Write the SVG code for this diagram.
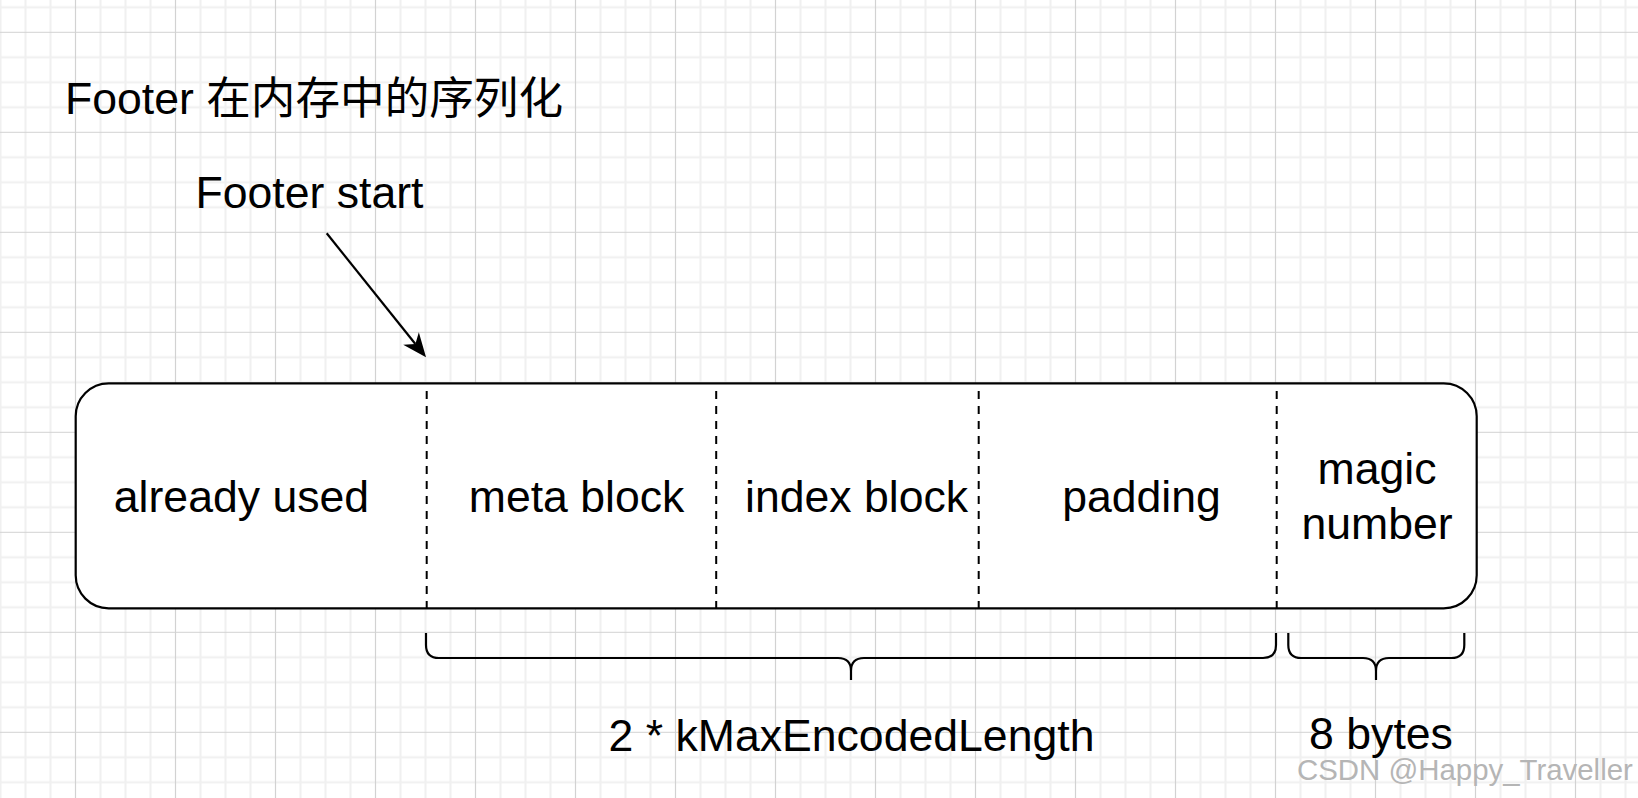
<svg xmlns="http://www.w3.org/2000/svg" width="1638" height="798" viewBox="0 0 1638 798">
  <style>
    .t { font-family: "Liberation Sans", Arial, Helvetica, "Noto Sans CJK SC", sans-serif; font-size: 44.6px; fill: #000; }
    .c { text-anchor: middle; }
    .box { fill: #fff; stroke: #000; stroke-width: 2.2; }
    .div { stroke: #000; stroke-width: 2; stroke-dasharray: 8 7; fill: none; }
    .brace { fill: none; stroke: #000; stroke-width: 2.2; stroke-linejoin: round; }
    .conn { fill: none; stroke: #000; stroke-width: 2.2; }
    .wm { font-family: "Liberation Sans", Arial, sans-serif; font-size: 29.4px; fill: #b5b5b5; }
  </style>
  <defs>
    <pattern id="grid" patternUnits="userSpaceOnUse" x="13" y="-30.2" width="100" height="100">
      <path d="M12.5 0V100M37.5 0V100M87.5 0V100M0 12.5H100M0 37.5H100M0 87.5H100" stroke="#f0f0f0" stroke-width="2" fill="none"/>
      <path d="M62.5 0V100M0 62.5H100" stroke="#d2d2d2" stroke-width="1.2" fill="none"/>
    </pattern>
    <marker id="arrow" markerUnits="userSpaceOnUse" viewBox="-25 -11 26 22" markerWidth="26" markerHeight="22" refX="-17" refY="0" orient="auto">
      <path d="M0 0L-24 -10L-17 0L-24 10Z" fill="#000"/>
    </marker>
  </defs>

  <rect x="0" y="0" width="1638" height="798" fill="#fff"/>
  <rect x="0" y="0" width="1638" height="798" fill="url(#grid)"/>

  <g id="title">
    <text class="t" x="65" y="113.5">Footer 在内存中的序列化</text>
  </g>

  <g id="footer-start">
    <text class="t" x="195.5" y="207.7">Footer start</text>
  </g>

  <g id="footer-box">
    <rect class="box" x="75.7" y="383.3" width="1401" height="225" rx="33" ry="33"/>
    <line class="div" x1="426.7" y1="391" x2="426.7" y2="608"/>
    <line class="div" x1="716.2" y1="391" x2="716.2" y2="608"/>
    <line class="div" x1="978.7" y1="391" x2="978.7" y2="608"/>
    <line class="div" x1="1276.7" y1="391" x2="1276.7" y2="608"/>
  </g>

  <g id="already-used">
    <text class="t c" x="241.5" y="511.7">already used</text>
  </g>
  <g id="meta-block">
    <text class="t c" x="576.6" y="511.7">meta block</text>
  </g>
  <g id="index-block">
    <text class="t c" x="856.6" y="511.7">index block</text>
  </g>
  <g id="padding">
    <text class="t c" x="1141.5" y="511.7">padding</text>
  </g>
  <g id="magic-number">
    <text class="t c" x="1377" y="483.5">magic</text>
    <text class="t c" x="1377" y="538.5">number</text>
  </g>

  <g id="brace-encoded">
    <path class="brace" d="M426 633V645Q426 658 439 658H838Q851 658 851 671Q851 658 864 658H1263Q1276 658 1276 645V633M851 671V680"/>
    <text class="t c" x="851.5" y="751">2 * kMaxEncodedLength</text>
  </g>

  <g id="brace-magic">
    <path class="brace" d="M1288.3 633V645Q1288.3 658 1301.3 658H1363Q1376 658 1376 671Q1376 658 1389 658H1451.3Q1464.3 658 1464.3 645V633M1376 671V680"/>
    <text class="t c" x="1381" y="749">8 bytes</text>
  </g>

  <g id="connectors">
    <path class="conn" d="M326.7 233.3L415.4 344" marker-end="url(#arrow)"/>
  </g>

  <text class="wm" x="1297" y="780">CSDN @Happy_Traveller</text>
</svg>
